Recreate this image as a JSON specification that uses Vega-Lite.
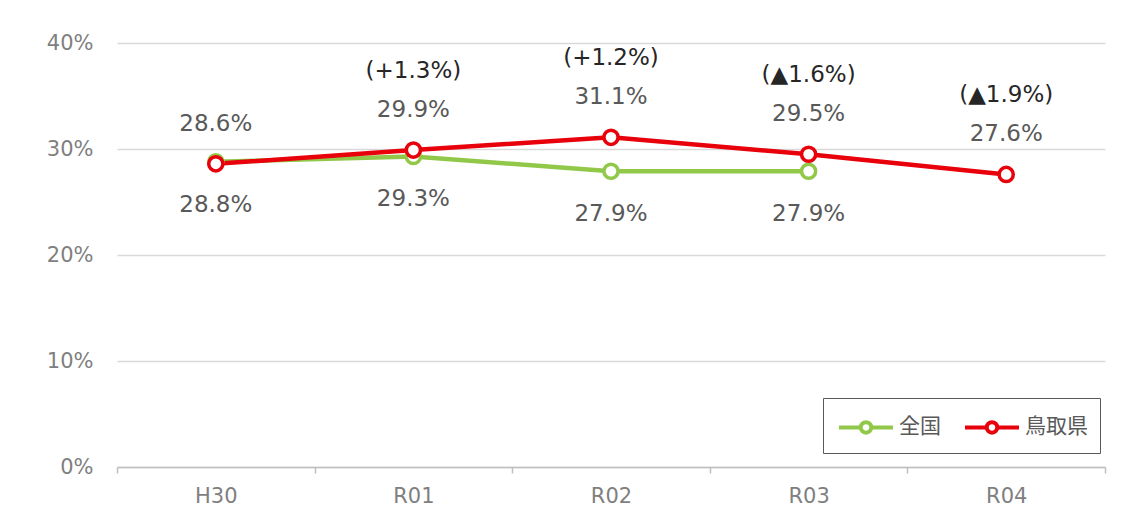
{
  "$schema": "https://vega.github.io/schema/vega-lite/v6.json",
  "width": 988,
  "height": 424,
  "autosize": "none",
  "padding": {"left": 117, "top": 43, "right": 38, "bottom": 56},
  "background": "white",
  "config": {"view": {"stroke": null}, "font": "DejaVu Sans"},
  "data": {
    "values": [
      {"year": "H30", "series": "全国", "value": 0.288, "change": ""},
      {"year": "R01", "series": "全国", "value": 0.293, "change": ""},
      {"year": "R02", "series": "全国", "value": 0.279, "change": ""},
      {"year": "R03", "series": "全国", "value": 0.279, "change": ""},
      {"year": "H30", "series": "鳥取県", "value": 0.286, "change": ""},
      {"year": "R01", "series": "鳥取県", "value": 0.299, "change": "(+1.3%)"},
      {"year": "R02", "series": "鳥取県", "value": 0.311, "change": "(+1.2%)"},
      {"year": "R03", "series": "鳥取県", "value": 0.295, "change": "(▲1.6%)"},
      {"year": "R04", "series": "鳥取県", "value": 0.276, "change": "(▲1.9%)"}
    ]
  },
  "encoding": {
    "x": {
      "field": "year", "type": "nominal", "sort": ["H30", "R01", "R02", "R03", "R04"],
      "scale": {"paddingInner": 0, "paddingOuter": 0},
      "axis": {
        "title": null, "labelAngle": 0, "labelFontSize": 21, "labelColor": "#7f7f7f",
        "domainColor": "#bfbfbf", "domainWidth": 1.5, "tickColor": "#bfbfbf", "tickWidth": 1.5,
        "tickBand": "extent", "tickSize": 6, "labelPadding": 12, "grid": false
      }
    },
    "y": {
      "field": "value", "type": "quantitative",
      "scale": {"domain": [0, 0.4]},
      "axis": {
        "title": null, "format": ".0%", "values": [0, 0.1, 0.2, 0.3, 0.4],
        "labelFontSize": 21, "labelColor": "#7f7f7f", "labelPadding": 24,
        "ticks": false, "domain": false, "gridColor": "#d9d9d9", "gridWidth": 1.5
      }
    },
    "color": {
      "field": "series", "type": "nominal",
      "scale": {"domain": ["全国", "鳥取県"], "range": ["#92c84a", "#e8000b"]},
      "legend": {
        "title": null, "orient": "none", "legendX": 706, "legendY": 355,
        "direction": "horizontal",
        "strokeColor": "#595959", "padding": 12, "fillColor": "white",
        "labelFont": "Noto Sans CJK JP", "labelFontSize": 21, "labelColor": "#595959",
        "symbolType": "M-1.8,0 L-0.35,0 M0.35,0 L1.8,0 M-0.35,0 A0.35,0.35 0 1,1 0.35,0 A0.35,0.35 0 1,1 -0.35,0",
        "symbolSize": 900, "symbolStrokeWidth": 4, "symbolFillColor": "white",
        "symbolOffset": 14, "labelOffset": 16, "columnPadding": 16
      }
    }
  },
  "layer": [
    {"mark": {"type": "line", "strokeWidth": 4.5}},
    {"mark": {"type": "point", "shape": "circle", "filled": false, "fill": "white", "fillOpacity": 1, "size": 200, "strokeWidth": 3.5, "opacity": 1}},
    {
      "transform": [{"filter": "datum.series === '鳥取県'"}],
      "mark": {"type": "text", "dy": -40, "fontSize": 23},
      "encoding": {"text": {"field": "value", "format": ".1%"}, "color": {"value": "#595959"}}
    },
    {
      "transform": [{"filter": "datum.series === '全国'"}],
      "mark": {"type": "text", "dy": 43, "fontSize": 23},
      "encoding": {"text": {"field": "value", "format": ".1%"}, "color": {"value": "#595959"}}
    },
    {
      "transform": [{"filter": "datum.change !== ''"}],
      "mark": {"type": "text", "dy": -79, "fontSize": 23},
      "encoding": {"text": {"field": "change"}, "color": {"value": "#262626"}}
    }
  ]
}
